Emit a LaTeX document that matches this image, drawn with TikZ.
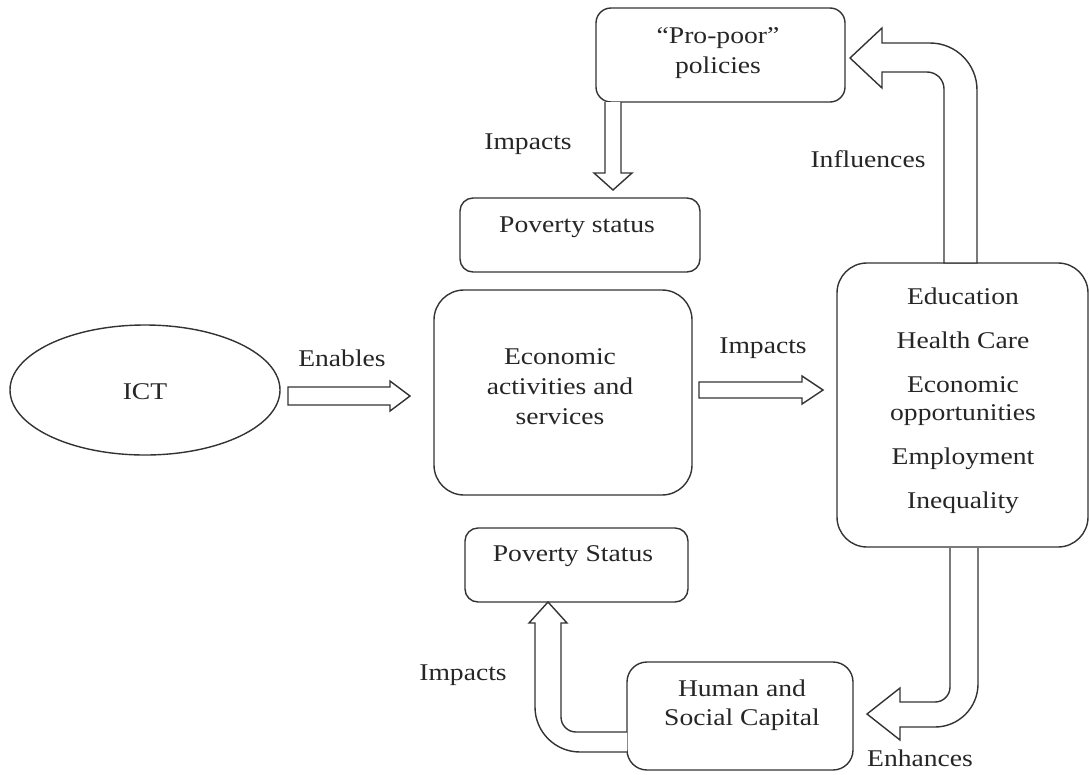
\documentclass[tikz,border=0pt]{standalone}
\usepackage{fontspec}
\setmainfont{Liberation Serif}[FakeStretch=1.15]
\usetikzlibrary{shapes.geometric,calc}
\tikzset{
  ln/.style={draw=black!80, line width=1.4pt},
  box/.style={ln, rectangle, rounded corners=#1, inner sep=0pt},
  box/.default=14pt,
  txt/.style={inner sep=0pt, align=center, text=black!85, font=\fontsize{24}{28}\selectfont},
  blk/.style={ln, fill=white, line join=miter}
}
\begin{document}
\begin{tikzpicture}[x=1pt,y=-1pt]
\useasboundingbox (0,0) rectangle (1089,774);
% boxes
\node[ln, ellipse, minimum width=270pt, minimum height=130pt, inner sep=0pt] (ict) at (145,390) {};
\node[txt] (ictt) at (145,392) {ICT};
\node[box=15pt, minimum width=249pt, minimum height=94pt] (pp) at (720.5,55) {};
\node[txt] (ppt) at (718,53) {“Pro-poor”\\[2pt]policies};
\node[box=13pt, minimum width=240pt, minimum height=74pt] (pov1) at (580,235) {};
\node[txt] (pov1t) at (577,227) {Poverty status};
\node[box=30pt, minimum width=258pt, minimum height=205pt] (econ) at (563,392.5) {};
\node[txt] (econt) at (560,387) {Economic\\[2pt]activities and\\[2pt]services};
\node[box=30pt, minimum width=251pt, minimum height=284pt] (res) at (962.5,405) {};
\node[txt] (rest) at (963,401) {Education\\[16pt]Health Care\\[16pt]Economic\\opportunities\\[16pt]Employment\\[16pt]Inequality};
\node[box=13pt, minimum width=223pt, minimum height=74pt] (pov2) at (576.5,565) {};
\node[txt] (pov2t) at (573,556) {Poverty Status};
\node[box=20pt, minimum width=226pt, minimum height=108pt] (hum) at (740,716) {};
\node[txt] (humt) at (742,705) {Human and\\[1pt]Social Capital};
% labels
\node[txt] (l1) at (528,144) {Impacts};
\node[txt] (l2) at (868,159) {Influences};
\node[txt] (l3) at (342,358) {Enables};
\node[txt] (l4) at (763,348) {Impacts};
\node[txt] (l5) at (463,675) {Impacts};
\node[txt] (l6) at (920,758) {Enhances};
% block arrows
\draw[blk] (288,387) -- (390,387) -- (390,381) -- (410,396) -- (390,411) -- (390,405) -- (288,405) -- cycle;
\draw[blk] (699,382) -- (802,382) -- (802,376) -- (823,390) -- (802,404) -- (802,398) -- (699,398) -- cycle;
\draw[blk] (605,102) -- (605,173) -- (594,173) -- (613,190) -- (632,173) -- (621,173) -- (621,102);
\draw[blk] (944,263) -- (944,89) .. controls (944,79.6) and (936.4,72) .. (927,72) -- (882,72) -- (882,88) -- (850,58) -- (882,28) -- (882,43) -- (930,43) .. controls (956,43) and (977,64) .. (977,90) -- (977,263) -- cycle;
\draw[blk] (950,548) -- (950,687) .. controls (950,695.3) and (943.3,702) .. (935,702) -- (900,702) -- (900,688) -- (867,714) -- (900,740) -- (900,727) -- (935,727) .. controls (958.7,727) and (978,707.7) .. (978,684) -- (978,548);
\draw[blk] (627,732) -- (576,732) .. controls (567.7,732) and (561,725.3) .. (561,717) -- (561,623) -- (567,623) -- (548,602) -- (529,623) -- (535,623) -- (535,707) .. controls (535,731.9) and (555.1,752) .. (580,752) -- (627,752);
\end{tikzpicture}
\end{document}
